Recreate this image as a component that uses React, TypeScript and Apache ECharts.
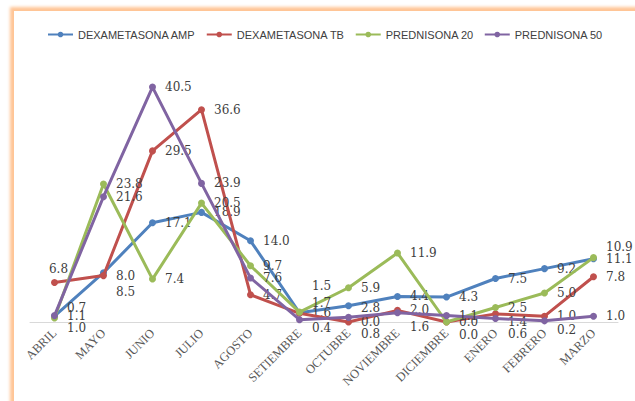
import React, { useEffect, useRef } from "react";
import * as echarts from "echarts";

const months = ["ABRIL", "MAYO", "JUNIO", "JULIO", "AGOSTO", "SETIEMBRE", "OCTUBRE", "NOVIEMBRE", "DICIEMBRE", "ENERO", "FEBRERO", "MARZO"];
const dexAmp = [1.0, 8.5, 17.1, 18.9, 14.0, 1.6, 2.8, 4.4, 4.3, 7.5, 9.2, 10.9];
const dexTb = [6.8, 8.0, 29.5, 36.6, 4.7, 1.5, 0.0, 2.0, 0.0, 1.4, 1.0, 7.8];
const pred20 = [0.7, 23.8, 7.4, 20.5, 9.7, 1.7, 5.9, 11.9, 0.0, 2.5, 5.0, 11.1];
const pred50 = [1.1, 21.6, 40.5, 23.9, 7.6, 0.4, 0.8, 1.6, 1.1, 0.6, 0.2, 1.0];

const seriesNames = ["DEXAMETASONA AMP", "DEXAMETASONA TB", "PREDNISONA 20", "PREDNISONA 50"];
const colors = ["#4F81BD", "#C0504D", "#9BBB59", "#8064A2"];

// label vertical nudges (styling only), keyed by series index -> point index
const labelNudge: Record<number, Record<number, number>> = {
  0: { 0: 12, 1: 19, 6: 2, 11: -12 },
  1: { 5: -27, 9: 8 },
  2: { 0: -10, 5: -9, 8: 13, 11: 1 },
  3: { 5: 8, 6: 17, 7: 14, 9: 15, 10: 9 },
};

export default function App() {
  const ref = useRef<HTMLDivElement>(null);
  useEffect(() => {
    if (!ref.current) return;
    const chart = echarts.init(ref.current, undefined, { renderer: "svg" });
    const all = [dexAmp, dexTb, pred20, pred50];
    const series = all.map((vals, si) => ({
      name: seriesNames[si],
      type: "line",
      data: vals.map((v, i) => {
        const item: any = { value: v };
        if (si === 1 && i === 0) {
          item.label = { position: "top", distance: 4, offset: [4, 0] };
        } else if (labelNudge[si] && labelNudge[si][i] !== undefined) {
          item.label = { offset: [0, labelNudge[si][i]] };
        }
        return item;
      }),
      symbol: "circle",
      symbolSize: 7,
      lineStyle: { width: 3, color: colors[si] },
      itemStyle: { color: colors[si] },
      label: {
        show: true,
        position: "right",
        distance: 9,
        formatter: (p: any) => Number(p.value).toFixed(1),
        color: "#404040",
        fontFamily: "DejaVu Serif",
        fontSize: 12,
      },
      z: 2 + si,
    }));
    chart.setOption({
      animation: false,
      color: colors,
      legend: {
        left: 42,
        top: 24,
        itemWidth: 25,
        itemHeight: 7,
        itemGap: 10,
        textStyle: { fontFamily: "Liberation Sans", fontSize: 11, color: "#404040" },
        data: seriesNames,
      },
      grid: { left: 30, right: 17, top: 61, bottom: 79 },
      xAxis: {
        type: "category",
        data: months,
        boundaryGap: true,
        axisLine: { lineStyle: { color: "#D9D9D9", width: 1 } },
        axisTick: { show: false },
        axisLabel: {
          rotate: 45,
          interval: 0,
          margin: 9,
          color: "#595959",
          fontFamily: "Liberation Serif",
          fontSize: 12.5,
        },
      },
      yAxis: {
        type: "value",
        min: 0,
        max: 45,
        show: false,
        splitLine: { show: false },
      },
      series,
    });
    return () => chart.dispose();
  }, []);

  return (
    <div style={{ position: "fixed", left: 0, top: 0, width: 635, height: 401, background: "#fff", overflow: "hidden" }}>
      <div
        style={{
          position: "absolute",
          left: 14,
          top: 11,
          width: 700,
          height: 500,
          background: "#fff",
          boxShadow: "0 0 3px 4px #FFC596",
        }}
      />
      <div ref={ref} style={{ position: "absolute", left: 0, top: 0, width: 635, height: 401 }} />
    </div>
  );
}
